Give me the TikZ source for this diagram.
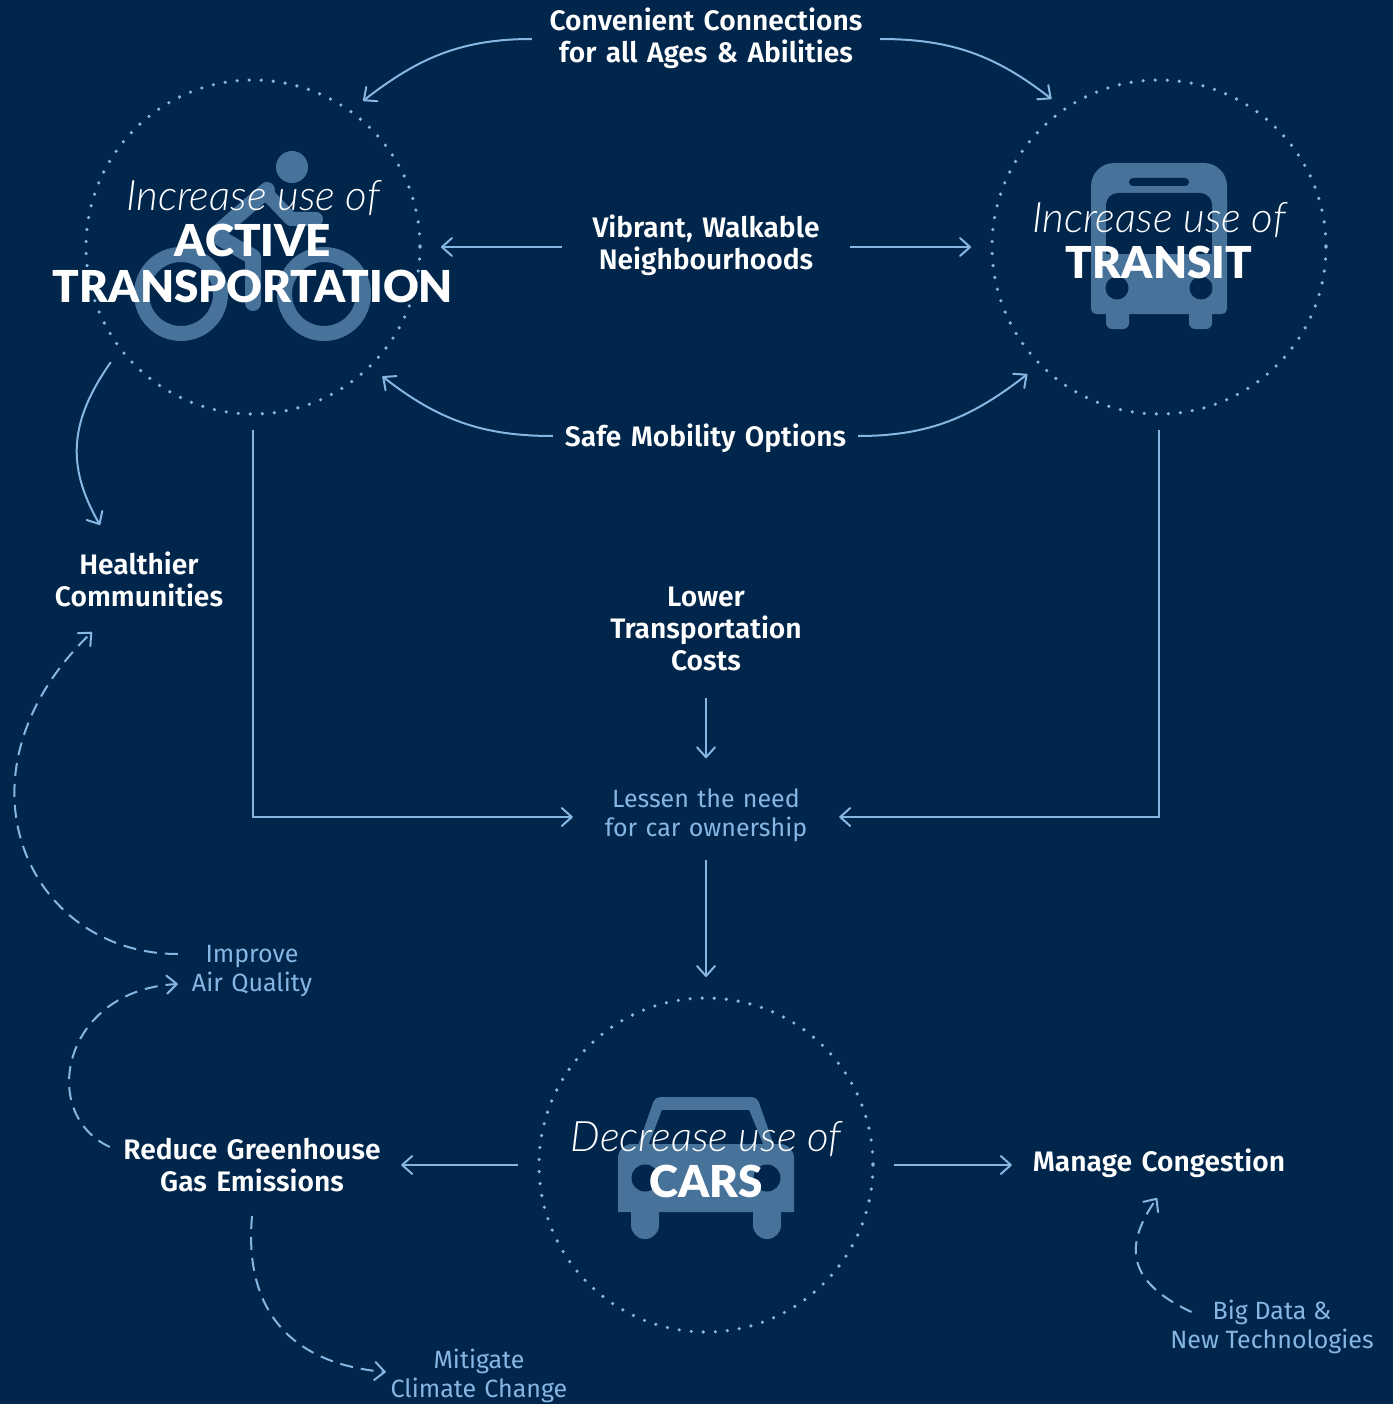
\documentclass[tikz,border=0pt]{standalone}
\usepackage{fontspec}
\setmainfont[BoldFont={Fira Sans SemiBold}]{Fira Sans}
\newfontfamily\lightfont[ItalicFont={Lato Light Italic}]{Lato Light}
\newfontfamily\heavyfont{Lato Black}
\usetikzlibrary{arrows.meta}
\definecolor{navy}{HTML}{00264C}
\definecolor{sky}{HTML}{86B7E3}
\definecolor{icon}{HTML}{477299}
\tikzset{
    ring/.style={circle, minimum size=334pt, inner sep=0pt, outer sep=16pt},
    dots/.style={draw=sky, line width=3.6pt, line cap=round, dash pattern=on 0pt off 12.05pt},
    link/.style={draw=sky, line width=2pt, -{Straight Barb[length=10pt,width=18pt,round]}},
    dashlink/.style={link, dash pattern=on 13pt off 8pt},
    strong/.style={white, font=\bfseries\fontsize{28.2}{32}\selectfont, align=center, inner sep=0pt},
    soft/.style={sky, font=\fontsize{25}{29}\selectfont, align=center, inner sep=0pt},
    headline/.style={white, font=\lightfont\itshape\fontsize{42}{44}\selectfont, inner sep=0pt},
    bigname/.style={white, font=\heavyfont\fontsize{44}{46}\selectfont, align=center, inner sep=0pt},
}
\begin{document}
\begin{tikzpicture}[x=1pt, y=-1pt]
    \useasboundingbox[fill=navy] (0,0) rectangle (1393,1404);

    % Bike.
    \fill[icon] (292,167) circle (16);
    \foreach \i in {181,324}
    {
        \draw[icon, line width=15pt] (\i,294) circle (39.5);
    }
    \draw[icon, line width=16pt, line cap=round, line join=round] (267,190) -- (215,235) -- (253,257) -- (253,303);
    \draw[icon, line width=14pt, line cap=round, line join=round] (268,195) -- (291,219) -- (316,219);

    % Bus.
    \fill[icon, rounded corners=5pt] (1091,200) -- (1091,314) -- (1227,314) -- (1227,200);
    \fill[icon, rounded corners=23pt] (1091,230) -- (1091,163) -- (1227,163) -- (1227,230) -- cycle;
    \fill[navy, rounded corners=12pt] (1106,230) -- (1106,193) -- (1212,193) -- (1212,230) -- cycle;
    \fill[navy] (1106,215) rectangle (1212,254);
    \fill[navy, rounded corners=4pt] (1129,178) rectangle (1189,186);
    \foreach \i in {1106,1189}
    {
        \fill[icon, rounded corners=6pt] (\i,300) -- (\i,329) -- (\i+23,329) -- (\i+23,300) -- cycle;
    }
    \foreach \i in {1117,1201}
    {
        \fill[navy] (\i,288) circle (11.5);
    }

    % Car.
    \fill[icon, rounded corners=5pt] (633,1160) -- (655,1097) -- (757,1097) -- (779,1160) -- cycle;
    \fill[navy] (662,1110) -- (749,1110) -- (763,1144) -- (649,1144) -- cycle;
    \fill[icon, rounded corners=14pt] (618,1212) -- (618,1144) -- (794,1144) -- (794,1212);
    \fill[icon] (618,1180) rectangle (794,1212);
    \foreach \i in {631,753}
    {
        \fill[icon, rounded corners=13.9pt] (\i,1200) -- (\i,1239) -- (\i+28,1239) -- (\i+28,1200) -- cycle;
    }
    \foreach \i in {645,767}
    {
        \fill[navy] (\i,1178) circle (13.5);
    }

    % Rings.
    \node[ring] (activering) at (253,247) {};
    \node[ring] (transitring) at (1159,247) {};
    \node[ring] (carsring) at (706,1165) {};
    \draw[dots] (253,247) circle (167);
    \draw[dots] (1159,247) circle (167);
    \draw[dots] (706,1165) circle (167);

    % Titles.
    \node[headline] (activehead) at (253,198) {Increase use of};
    \node[bigname] (activename) at (253,263) {ACTIVE\\TRANSPORTATION};
    \node[headline] (transithead) at (1159,220) {Increase use of};
    \node[bigname] (transitname) at (1159,262) {TRANSIT};
    \node[headline] (carshead) at (706,1139) {Decrease use of};
    \node[bigname] (carsname) at (706,1181) {CARS};

    % Labels.
    \node[strong, text width=348pt] (convenient) at (706,38) {Convenient Connections\\for all Ages \& Abilities};
    \node[strong, text width=288pt] (vibrant) at (706,245) {Vibrant, Walkable\\Neighbourhoods};
    \node[strong, text width=305pt] (safe) at (705.5,438) {Safe Mobility Options};
    \node[strong] (healthier) at (139,579) {Healthier\\Communities};
    \node[strong] (lower) at (706,629) {Lower\\Transportation\\Costs};
    \node[soft, text width=266pt] (lessen) at (706,815.5) {Lessen the need\\for car ownership};
    \node[soft, text width=148pt] (improve) at (252,971.5) {Improve\\Air Quality};
    \node[strong, text width=298pt] (reduce) at (252,1165) {Reduce Greenhouse\\Gas Emissions};
    \node[strong, text width=294pt] (manage) at (1159,1163) {Manage Congestion};
    \node[soft, text width=186pt] (mitigate) at (479,1376) {Mitigate\\Climate Change};
    \node[soft] (bigdata) at (1272,1327) {Big Data \&\\New Technologies};

    % Top connectors.
    \draw[link] ([yshift=-1pt]convenient.west) to[out=180, in=38] (activering.53.4);
    \draw[link] ([yshift=-1pt]convenient.east) to[out=0, in=142] (transitring.126.6);
    \draw[link, shorten >=5pt] ([yshift=-2pt]vibrant.west) -- (activering.0);
    \draw[link, shorten >=5pt] ([yshift=-2pt]vibrant.east) -- (transitring.180);
    \draw[link] ([yshift=2pt]safe.west) to[out=180, in=-38] (activering.-45);
    \draw[link] ([yshift=2pt]safe.east) to[out=0, in=218] (transitring.224.5);

    % Middle connectors.
    \draw[link] (activering.219) to[out=235, in=120, out distance=70pt, in distance=70pt] ([shift={(-39pt,54pt)}]healthier.center);
    \draw[link] (activering.270) |- ([yshift=-1.5pt]lessen.west);
    \draw[link] (transitring.270) |- ([yshift=-1.5pt]lessen.east);
    \draw[link] ([yshift=-27pt]lower.south) -- ([yshift=30.5pt]lessen.north);
    \draw[link, shorten <=18pt, shorten >=5pt] (lessen.south) -- (carsring.90);

    % Bottom connectors.
    \draw[link, shorten <=5pt] (carsring.180) -- (reduce.east);
    \draw[link, shorten <=5pt] ([yshift=0pt]carsring.0) -- ([yshift=-2pt]manage.west);
    \draw[dashlink] ([yshift=17.5pt]improve.west) to[out=180, in=224, out distance=150pt, in distance=205pt] ([shift={(-47pt,-53pt)}]healthier.center);
    \draw[dashlink] ([shift={(7pt,18pt)}]reduce.west) to[out=155, in=183, out distance=80pt, in distance=115pt] ([yshift=-12.5pt]improve.west);
    \draw[dashlink] ([yshift=-51pt]reduce.center) to[out=265, in=175, out distance=100pt, in distance=90pt] ([yshift=4pt]mitigate.west);
    \draw[dashlink] ([shift={(21.5pt,15pt)}]bigdata.west) to[out=155, in=235, out distance=70pt, in distance=60pt] ([shift={(-2pt,-35pt)}]manage.center);
\end{tikzpicture}
\end{document}
